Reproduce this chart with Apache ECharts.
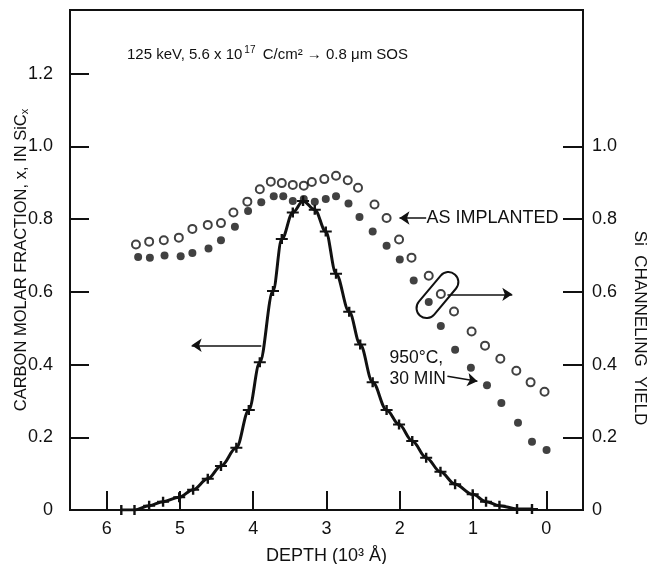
<!DOCTYPE html>
<html>
<head>
<meta charset="utf-8">
<script src="https://cdn.jsdelivr.net/npm/echarts@6/dist/echarts.min.js"></script>
<style>
  html, body { margin: 0; padding: 0; background: #fff; }
  #chart { width: 648px; height: 564px; }
</style>
</head>
<body>
<div id="chart"></div>
<script>
// depth in 10^3 A
var depthTicks = [0, 1, 2, 3, 4, 5, 6];
var leftTicks = [0, 0.2, 0.4, 0.6, 0.8, 1.0, 1.2];
var rightTicks = [0, 0.2, 0.4, 0.6, 0.8, 1.0];

// open circles: as implanted (Si channeling yield)
var implDepth = [5.60, 5.42, 5.22, 5.015, 4.83, 4.62, 4.44, 4.27, 4.08, 3.91, 3.76, 3.61, 3.46, 3.31, 3.20, 3.03, 2.87, 2.71, 2.57, 2.345, 2.18, 2.01, 1.84, 1.605, 1.44, 1.26, 1.02, 0.837, 0.628, 0.41, 0.215, 0.025];
var implYield = [0.730, 0.738, 0.742, 0.749, 0.773, 0.784, 0.789, 0.818, 0.848, 0.882, 0.903, 0.899, 0.894, 0.892, 0.902, 0.910, 0.919, 0.907, 0.886, 0.840, 0.803, 0.744, 0.694, 0.644, 0.594, 0.546, 0.491, 0.452, 0.416, 0.383, 0.351, 0.325];

// filled circles: 950 C, 30 min
var annDepth = [5.57, 5.41, 5.21, 4.99, 4.83, 4.61, 4.44, 4.25, 4.07, 3.89, 3.72, 3.59, 3.46, 3.31, 3.16, 3.01, 2.87, 2.70, 2.55, 2.37, 2.18, 2.00, 1.81, 1.605, 1.44, 1.245, 1.03, 0.81, 0.614, 0.387, 0.196, -0.003];
var annYield = [0.696, 0.694, 0.700, 0.698, 0.707, 0.719, 0.742, 0.779, 0.822, 0.846, 0.863, 0.863, 0.850, 0.855, 0.848, 0.855, 0.863, 0.843, 0.806, 0.766, 0.727, 0.689, 0.631, 0.572, 0.506, 0.441, 0.391, 0.343, 0.294, 0.240, 0.188, 0.165];

// crosses + line: carbon molar fraction
var carbDepth = [5.80, 5.62, 5.42, 5.23, 5.01, 4.82, 4.62, 4.44, 4.23, 4.06, 3.91, 3.73, 3.61, 3.46, 3.32, 3.16, 3.01, 2.87, 2.69, 2.54, 2.37, 2.18, 2.01, 1.83, 1.64, 1.445, 1.245, 1.005, 0.823, 0.64, 0.40, 0.196];
var carbFrac = [0, 0, 0.012, 0.023, 0.035, 0.056, 0.086, 0.121, 0.171, 0.275, 0.406, 0.602, 0.745, 0.818, 0.850, 0.826, 0.766, 0.650, 0.545, 0.455, 0.351, 0.275, 0.235, 0.190, 0.144, 0.105, 0.071, 0.043, 0.023, 0.012, 0.003, 0.003];

function pairs(xs, ys) {
  return xs.map(function (x, i) { return [x, ys[i]]; });
}

var ink = '#111';
var font = 'Liberation Sans, Arial, Helvetica, sans-serif';
var chart = echarts.init(document.getElementById('chart'), null, {renderer: 'canvas'});

var yLabel = function (v) { return v === 0 ? '0' : v.toFixed(1); };

var option = {
  animation: false,
  backgroundColor: '#fff',
  textStyle: {fontFamily: font, color: ink},
  title: {
    left: 127,
    top: 45,
    padding: 0,
    text: '{n|125 keV, 5.6 x 10}{s|17}{n| C/cm\u00b2 \u2192 0.8 \u03bcm SOS}',
    textStyle: {
      fontWeight: 'normal',
      rich: {
        n: {fontFamily: font, fontSize: 15, fontWeight: 'normal', color: ink, lineHeight: 20},
        s: {fontFamily: font, fontSize: 10, fontWeight: 'normal', color: ink, lineHeight: 10, verticalAlign: 'top', padding: [0, 3, 0, 2]}
      }
    }
  },
  grid: {left: 70, right: 65, top: 10, bottom: 54, outerBoundsMode: 'none', containLabel: false, show: true, borderColor: ink, borderWidth: 2},
  xAxis: {
    type: 'value',
    min: -0.5,
    max: 6.5,
    inverse: true,
    name: 'DEPTH (10\u00b3 \u00c5)',
    nameLocation: 'middle',
    nameGap: 37,
    nameTextStyle: {fontFamily: font, fontSize: 18, color: ink},
    axisLine: {onZero: false, lineStyle: {color: ink, width: 2}},
    axisTick: {inside: true, length: 19, lineStyle: {color: ink, width: 2}, customValues: depthTicks},
    axisLabel: {fontFamily: font, fontSize: 18, color: ink, margin: 10, customValues: depthTicks},
    splitLine: {show: false}
  },
  yAxis: [{
    type: 'value',
    min: 0,
    max: 1.375,
    position: 'left',
    name: '{a|CARBON MOLAR FRACTION, x, IN SiC}{b|x}',
    nameLocation: 'middle',
    nameGap: 40,
    nameMoveOverlap: false,
    nameRotate: 90,
    nameTextStyle: {
      rich: {
        a: {fontFamily: font, fontSize: 16.5, color: ink, lineHeight: 18},
        b: {fontFamily: font, fontSize: 11, color: ink, lineHeight: 11, verticalAlign: 'bottom'}
      }
    },
    axisLine: {show: true, onZero: false, lineStyle: {color: ink, width: 2}},
    axisTick: {show: true, inside: true, length: 19, lineStyle: {color: ink, width: 2}, customValues: leftTicks},
    axisLabel: {fontFamily: font, fontSize: 18, color: ink, margin: 17, formatter: yLabel, customValues: leftTicks},
    splitLine: {show: false}
  }, {
    type: 'value',
    min: 0,
    max: 1.375,
    position: 'right',
    axisLine: {show: true, onZero: false, lineStyle: {color: ink, width: 2}},
    axisTick: {show: true, inside: true, length: 20, lineStyle: {color: ink, width: 2}, customValues: rightTicks},
    axisLabel: {fontFamily: font, fontSize: 18, color: ink, margin: 9, formatter: yLabel, customValues: rightTicks},
    splitLine: {show: false}
  }],
  series: [{
    name: 'carbon',
    type: 'line',
    yAxisIndex: 0,
    data: pairs(carbDepth, carbFrac),
    smooth: 0.35,
    smoothMonotone: 'x',
    lineStyle: {color: ink, width: 3},
    symbol: 'path://M0,4H10V6H0Z M4,0H6V10H4Z',
    symbolSize: [12, 10],
    itemStyle: {color: ink},
    z: 3
  }, {
    name: 'as implanted',
    type: 'scatter',
    yAxisIndex: 1,
    data: pairs(implDepth, implYield),
    symbol: 'emptyCircle',
    symbolSize: 8,
    itemStyle: {color: ink, borderColor: ink, borderWidth: 2},
    markLine: {
      silent: true,
      symbol: ['none', 'arrow'],
      symbolSize: 10,
      label: {show: false},
      lineStyle: {color: ink, width: 1.5, type: 'solid'},
      data: [
        [{coord: [3.89, 0.453]}, {coord: [4.84, 0.453]}],
        [{coord: [1.64, 0.803]}, {coord: [2.004, 0.803]}],
        [{coord: [1.35, 0.593]}, {coord: [0.465, 0.593]}],
        [{coord: [1.35, 0.368]}, {coord: [0.941, 0.354]}]
      ]
    }
  }, {
    name: '950C 30 min',
    type: 'scatter',
    yAxisIndex: 1,
    data: pairs(annDepth, annYield),
    symbol: 'circle',
    symbolSize: 8,
    itemStyle: {color: ink}
  }]
};

chart.setOption(option);

function px(x, y) {
  return chart.convertToPixel({xAxisIndex: 0, yAxisIndex: 0}, [x, y]);
}

var capsule = px(1.486, 0.591);
var implText = px(1.636, 0.803);
var annText = px(2.14, 0.39);
var gridRect = chart.getModel().getComponent('grid').coordinateSystem.getRect();

chart.setOption({
  graphic: [{
    type: 'rect',
    x: capsule[0],
    y: capsule[1],
    rotation: 50 * Math.PI / 180,
    shape: {x: -27, y: -10, width: 54, height: 20, r: 10},
    style: {fill: 'none', stroke: ink, lineWidth: 2},
    z: 10
  }, {
    type: 'text',
    x: implText[0],
    y: implText[1],
    style: {text: 'AS IMPLANTED', font: '18px ' + font, fill: ink, verticalAlign: 'middle', align: 'left'},
    z: 10
  }, {
    type: 'text',
    x: annText[0],
    y: annText[1],
    style: {text: '950\u00b0C,\n30 MIN', font: '17.5px ' + font, fill: ink, verticalAlign: 'middle', align: 'left', lineHeight: 21},
    z: 10
  }, {
    type: 'text',
    x: gridRect.x + gridRect.width + 57,
    y: 328,
    rotation: -Math.PI / 2,
    style: {text: 'Si  CHANNELING  YIELD', font: '17px ' + font, fill: ink, verticalAlign: 'middle', align: 'center'},
    z: 10
  }]
});
</script>
</body>
</html>
